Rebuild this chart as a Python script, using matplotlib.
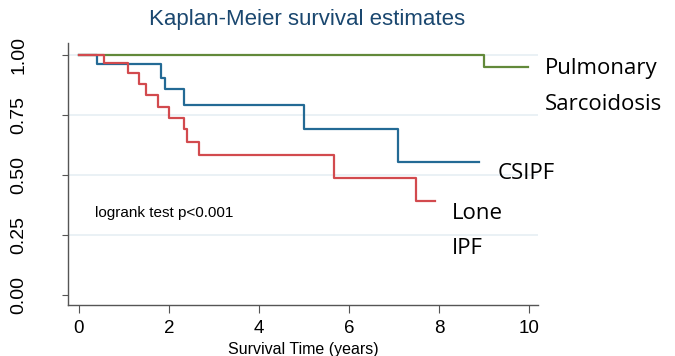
import matplotlib
matplotlib.use('Agg')
from matplotlib import pyplot as plt

# step times (years) and survival after each step
sarc_t = [0.0, 9.0, 9.97]
sarc_s = [1.0, 0.951, 0.951]

csipf_t = [0.0, 0.41, 1.82, 1.91, 2.33, 5.0, 7.09, 8.9]
csipf_s = [1.0, 0.961, 0.905, 0.857, 0.792, 0.693, 0.555, 0.555]

ipf_t = [0.0, 0.56, 1.09, 1.33, 1.50, 1.76, 2.0, 2.33, 2.41, 2.67, 5.67, 7.5, 7.91]
ipf_s = [1.0, 0.965, 0.926, 0.880, 0.832, 0.785, 0.739, 0.690, 0.639, 0.583, 0.4875, 0.39, 0.39]

labels = ['Pulmonary', 'Sarcoidosis', 'CSIPF', 'Lone', 'IPF']
label_x = [10.36, 10.36, 9.31, 8.29, 8.29]
label_y = [0.945, 0.795, 0.505, 0.34, 0.195]

xticks = [0, 2, 4, 6, 8, 10]
yticks = [0.0, 0.25, 0.5, 0.75, 1.0]

plt.rcParams['font.family'] = ['Liberation Sans', 'DejaVu Sans']

fig = plt.figure(figsize=(6.75, 3.56), dpi=100)
ax = fig.add_axes([0.1007, 0.143, 0.6963, 0.736])

for y in yticks[1:]:
    ax.axhline(y, color='#e6eff3', lw=1.2, zorder=0)

ax.step(sarc_t, sarc_s, where='post', color='#62893a', lw=1.6)
ax.step(csipf_t, csipf_s, where='post', color='#236a95', lw=1.6)
ax.step(ipf_t, ipf_s, where='post', color='#d24a4e', lw=1.6)

ax.set_xlim(-0.244, 10.2)
ax.set_ylim(-0.042, 1.05)
ax.set_xticks(xticks)
ax.set_xticklabels([str(x) for x in xticks], fontsize=13.5)
ax.set_yticks(yticks)
ax.set_yticklabels(['%.2f' % y for y in yticks], fontsize=14, rotation=90, va='center')
ax.tick_params(axis='x', length=6, width=0.8, color='#555555', pad=5)
ax.tick_params(axis='y', length=4, width=0.8, color='#555555', pad=25)

for s in ['top', 'right']:
    ax.spines[s].set_visible(False)
for s in ['left', 'bottom']:
    ax.spines[s].set_color('#555555')
    ax.spines[s].set_linewidth(1.0)

ax.set_xlabel('Survival Time (years)', fontsize=11.5, labelpad=3)
fig.text(0.455, 0.945, 'Kaplan-Meier survival estimates', fontsize=16,
         color='#1a476f', ha='center', va='center')

ax.text(0.35, 0.342, 'logrank test p<0.001', fontsize=11, va='center')

for lab, x, y in zip(labels, label_x, label_y):
    ax.text(x, y, lab, fontsize=16, family=['Open Sans', 'DejaVu Sans'],
            va='center', ha='left', clip_on=False)

fig.savefig('out.png', dpi=100)
